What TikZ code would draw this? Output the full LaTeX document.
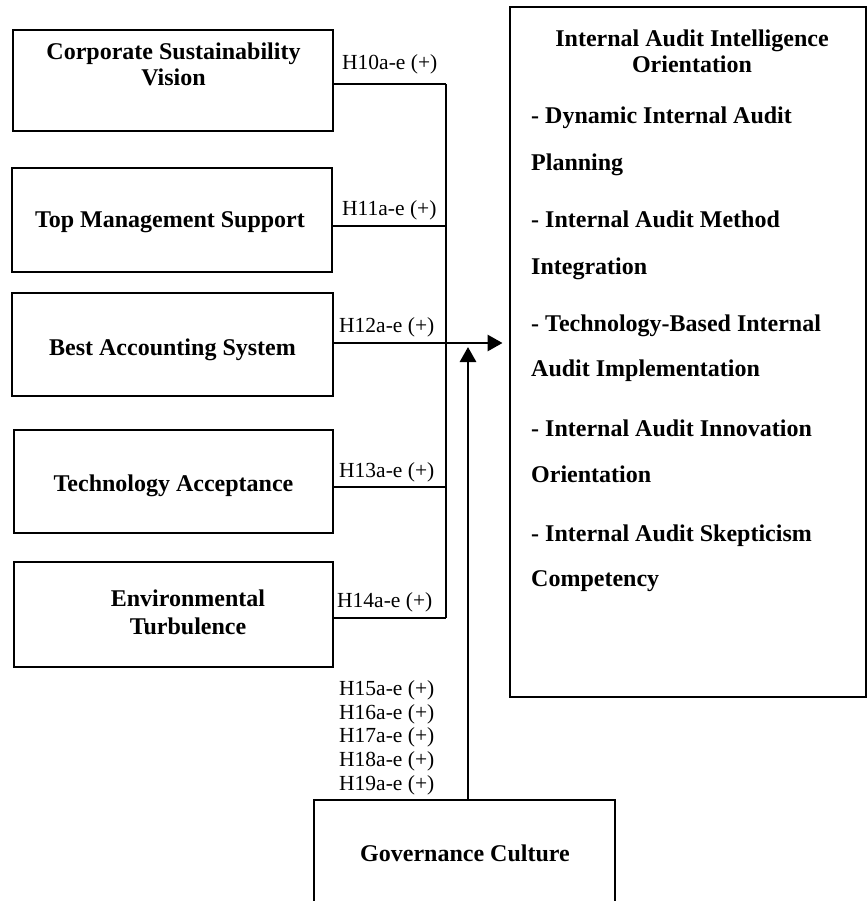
\documentclass[tikz,border=0pt]{standalone}
\usepackage{fontspec}
\setmainfont{Liberation Serif}
\usetikzlibrary{arrows.meta,calc}

\tikzset{
  frame/.style={draw, line width=2.9pt, inner sep=0pt},
  boxtext/.style={font=\bfseries\fontsize{24}{26}\selectfont, align=center, inner sep=0pt},
  itemtext/.style={font=\bfseries\fontsize{24}{26}\selectfont, anchor=base west, inner sep=0pt},
  hyp/.style={font=\fontsize{21.5}{24}\selectfont, anchor=base west, inner sep=0pt},
  wire/.style={line width=2.9pt},
  arrowwire/.style={line width=2.9pt, -{Triangle[length=15pt,width=16pt]}},
}

\begin{document}
\begin{tikzpicture}[x=1pt,y=-1pt]
\useasboundingbox (0,0) rectangle (867,901);
\fill[white] (0,0) rectangle (867,901);

% predictor boxes
\node[frame, minimum width=320pt, minimum height=101pt] (b1) at (173,80.5) {};
\node[frame, minimum width=320pt, minimum height=104pt] (b2) at (172,220) {};
\node[frame, minimum width=321pt, minimum height=103pt] (b3) at (172.5,344.5) {};
\node[frame, minimum width=319pt, minimum height=103pt] (b4) at (173.5,481.5) {};
\node[frame, minimum width=319pt, minimum height=105pt] (b5) at (173.5,614.5) {};

\node[boxtext] (t1) at (173.5,64) {Corporate Sustainability\\Vision};
\node[boxtext] (t2) at (170,222) {Top Management Support};
\node[boxtext] (t3) at (172.5,350) {Best Accounting System};
\node[boxtext] (t4) at (173.5,486) {Technology Acceptance};
\node[boxtext, font=\bfseries\fontsize{24}{28}\selectfont] (t5) at (188,612) {Environmental\\Turbulence};

% outcome box
\node[frame, minimum width=356pt, minimum height=690pt] (out) at (688,352) {};
\node[boxtext] (title) at (692,51) {Internal Audit Intelligence\\Orientation};
\foreach \yy/\txt [count=\i] in {
  124/- Dynamic Internal Audit,
  171/Planning,
  228/- Internal Audit Method,
  274/Integration,
  331/- Technology-Based Internal,
  376/Audit Implementation,
  436/- Internal Audit Innovation,
  482/Orientation,
  541/- Internal Audit Skepticism,
  586/Competency}
  \node[itemtext] (item\i) at (531,\yy) {\txt};

% moderator box
\node[frame, minimum width=301pt, minimum height=106pt] (gov) at (464.5,853) {};
\node[boxtext] (tg) at (465,853) {Governance Culture};

% junctions on the collecting line
\coordinate (j1) at (446,84);
\coordinate (j2) at (446,226);
\coordinate (j3) at (446,343);
\coordinate (j4) at (446,487);
\coordinate (j5) at (446,618);
\coordinate (mtip) at (468,347);

\draw[wire] (b1.east |- j1) -- (j1);
\draw[wire] (b2.east |- j2) -- (j2);
\draw[wire] (b4.east |- j4) -- (j4);
\draw[wire] (b5.east |- j5) -- (j5);
\draw[wire] (j1) -- (j5);
\draw[arrowwire, shorten >=6pt] (b3.east |- j3) -- (out.west |- j3);
\draw[arrowwire] (gov.north -| mtip) -- (mtip);

% hypothesis labels
\node[hyp] (h10) at (342,70) {H10a-e (+)};
\node[hyp] (h11) at (342,216) {H11a-e (+)};
\node[hyp] (h12) at (339,332) {H12a-e (+)};
\node[hyp] (h13) at (339,477) {H13a-e (+)};
\node[hyp] (h14) at (337,607) {H14a-e (+)};
\foreach \yy/\n in {695/15,719/16,742/17,766/18,790/19}
  \node[hyp] (h\n) at (339,\yy) {H\n a-e (+)};
\end{tikzpicture}
\end{document}
